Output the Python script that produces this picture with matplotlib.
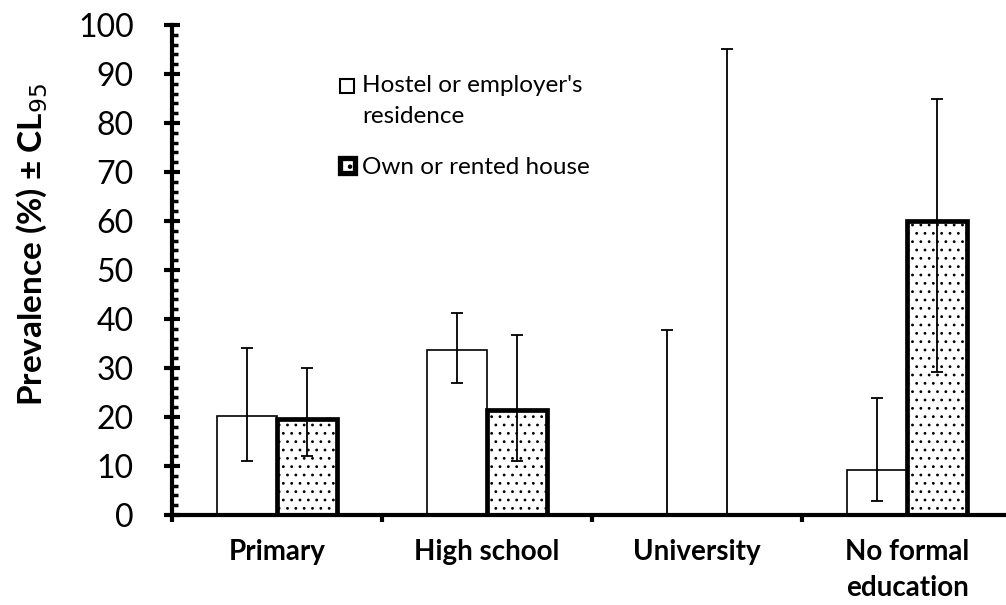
import numpy as np
import matplotlib.pyplot as plt
from matplotlib.ticker import MultipleLocator
from matplotlib.patches import Rectangle

plt.rcParams['font.family'] = ['Lato', 'DejaVu Sans']
plt.rcParams['hatch.linewidth'] = 0.8
plt.rcParams['hatch.color'] = 'black'

# Data
categories = ["Primary", "High school", "University", "No formal\neducation"]
hostel = [20.3, 33.7, 0.0, 9.2]
hostel_lo = [11.0, 27.0, 0.0, 2.9]
hostel_hi = [34.0, 41.3, 37.8, 23.8]
own = [19.6, 21.4, 0.0, 60.0]
own_lo = [12.1, 11.1, 0.0, 29.2]
own_hi = [30.1, 36.8, 95.0, 84.8]
series_names = ["Hostel or employer's\nresidence", "Own or rented house"]

x = np.arange(len(categories)) + 0.5
w = 0.2857
W, H = 1006, 605

fig = plt.figure(figsize=(W / 100, H / 100), dpi=100)
ax = fig.add_axes([172 / W, 90 / H, 840 / W, 490 / H])

b1 = ax.bar(x - w / 2, hostel, w, color='white', edgecolor='black', linewidth=1.2, zorder=2)
b2 = ax.bar(x + w / 2, own, w, color='white', edgecolor='black', linewidth=3.4,
            hatch='..', zorder=2)
# zero-height bars leave no mark
for p in list(b1) + list(b2):
    if p.get_height() == 0:
        p.set_visible(False)

# error bars (lower / upper CL)
h_err = [np.array(hostel) - np.array(hostel_lo), np.array(hostel_hi) - np.array(hostel)]
o_err = [np.array(own) - np.array(own_lo), np.array(own_hi) - np.array(own)]
ax.errorbar(x - w / 2, hostel, yerr=h_err, fmt='none', ecolor='black',
            elinewidth=1.3, capsize=4, capthick=1.3, zorder=3)
ax.errorbar(x + w / 2, own, yerr=o_err, fmt='none', ecolor='black',
            elinewidth=1.3, capsize=4, capthick=1.3, zorder=3)

ax.set_xlim(0, 4)
ax.set_ylim(0, 100)
ax.set_xticks(np.arange(0, 5))
ax.set_xticklabels([])
ax.set_xticks(x, minor=True)
ax.set_xticklabels(categories, minor=True, fontsize=20, fontweight='bold',
                   linespacing=1.5)
ax.tick_params(axis='x', which='major', direction='out', length=5, width=3)
ax.tick_params(axis='x', which='minor', length=0, pad=17)

ax.yaxis.set_major_locator(MultipleLocator(10))
ax.yaxis.set_minor_locator(MultipleLocator(2))
ax.tick_params(axis='y', which='major', direction='inout', length=11, width=3,
               labelsize=23, pad=22)
ax.tick_params(axis='y', which='minor', direction='in', length=4, width=2.5)
ax.set_ylabel("Prevalence (%) ± CL$_{95}$", fontsize=24, fontweight='bold')
ax.yaxis.set_label_coords((50 - 172) / 840, 0.553)

for s in ['top', 'right']:
    ax.spines[s].set_visible(False)
ax.spines['left'].set_linewidth(3)
ax.spines['bottom'].set_linewidth(3)

# legend drawn by hand so the box sits on the first text line
fig.patches.append(Rectangle((340 / W, 1 - 93 / H), 14 / W, 14 / H, transform=fig.transFigure,
                             facecolor='white', edgecolor='black', linewidth=1.5))
fig.patches.append(Rectangle((340 / W, 1 - 173 / H), 15 / W, 15 / H, transform=fig.transFigure,
                             facecolor='white', edgecolor='black', linewidth=3.8, hatch='.'))
fig.text(362 / W, 1 - 75 / H, series_names[0], fontsize=17.5, va='top', ha='left',
         linespacing=1.6, transform=fig.transFigure)
fig.text(362 / W, 1 - 166 / H, series_names[1], fontsize=17.5, va='center_baseline',
         ha='left', transform=fig.transFigure)

fig.savefig('out.png', dpi=100)
